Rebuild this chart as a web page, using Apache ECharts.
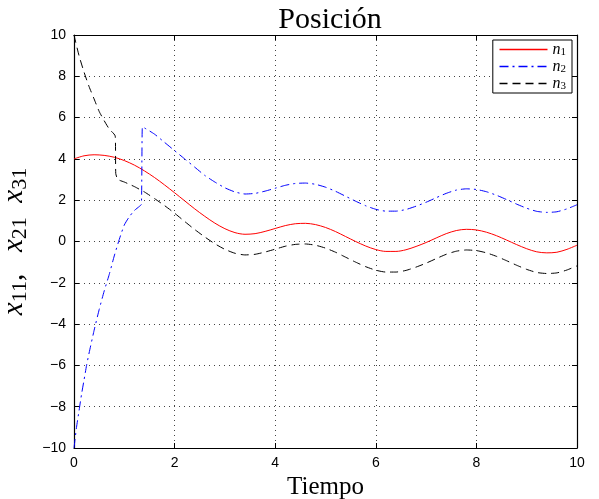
<!DOCTYPE html>
<html>
<head>
<meta charset="utf-8">
<title>Posición</title>
<script src="https://cdn.jsdelivr.net/npm/echarts@6/dist/echarts.min.js"></script>
<style>
  html, body { margin: 0; padding: 0; background: #fff; }
  #chart { width: 599px; height: 499px; }
</style>
</head>
<body>
<div id="chart"></div>
<script>
// values
const tN1 = [0, 0.2, 0.4, 0.6, 0.8, 1.0, 1.2, 1.4, 1.6, 1.8, 2.0, 2.2, 2.4, 2.6, 2.8, 3.0, 3.2, 3.4, 3.6, 3.8,
  4.0, 4.2, 4.4, 4.6, 4.8, 5.0, 5.2, 5.4, 5.6, 5.8, 6.0, 6.2, 6.4, 6.6, 6.8, 7.0, 7.2, 7.4, 7.6, 7.8,
  8.0, 8.2, 8.4, 8.6, 8.8, 9.0, 9.2, 9.4, 9.6, 9.8, 10]
const vN1 = [4.00, 4.15, 4.20, 4.17, 4.08, 3.92, 3.70, 3.42, 3.10, 2.74, 2.36, 1.97, 1.58, 1.22, 0.89, 0.62, 0.43, 0.35, 0.38, 0.49,
  0.63, 0.77, 0.86, 0.88, 0.82, 0.68, 0.48, 0.24, 0.00, -0.22, -0.39, -0.48, -0.48, -0.40, -0.24, -0.05, 0.17, 0.38, 0.53, 0.59,
  0.56, 0.45, 0.28, 0.07, -0.15, -0.35, -0.50, -0.55, -0.52, -0.38, -0.18]

const tN2 = [0, 0.05, 0.1, 0.15, 0.2, 0.25, 0.3, 0.4, 0.5, 0.6, 0.7, 0.8, 0.9, 1.0, 1.1, 1.2, 1.3, 1.34, 1.36,
  1.4, 1.6, 1.8, 2.0, 2.2, 2.4, 2.6, 2.8, 3.0, 3.2, 3.4, 3.6, 3.8, 4.0, 4.2, 4.4, 4.6, 4.8, 5.0, 5.2, 5.4,
  5.6, 5.8, 6.0, 6.2, 6.4, 6.6, 6.8, 7.0, 7.2, 7.4, 7.6, 7.8, 8.0, 8.2, 8.4, 8.6, 8.8, 9.0, 9.2, 9.4, 9.6, 9.8, 10]
const vN2 = [-10, -9.0, -8.2, -7.4, -6.7, -6.0, -5.4, -4.3, -3.3, -2.4, -1.6, -0.7, 0.1, 0.8, 1.2, 1.5, 1.7, 1.8, 5.55,
  5.5, 5.2, 4.8, 4.4, 4.0, 3.6, 3.2, 2.88, 2.6, 2.4, 2.3, 2.33, 2.44, 2.58, 2.72, 2.81, 2.83, 2.77, 2.63, 2.43, 2.19,
  1.95, 1.73, 1.56, 1.47, 1.47, 1.55, 1.71, 1.90, 2.12, 2.33, 2.49, 2.55, 2.52, 2.41, 2.24, 2.03, 1.81, 1.61, 1.46, 1.41, 1.44, 1.58, 1.78]

const tN3 = [0, 0.1, 0.2, 0.3, 0.4, 0.5, 0.6, 0.7, 0.82, 0.83, 0.86, 0.9, 1.0, 1.1, 1.2, 1.3, 1.4, 1.6, 1.8,
  2.0, 2.2, 2.4, 2.6, 2.8, 3.0, 3.2, 3.4, 3.6, 3.8, 4.0, 4.2, 4.4, 4.6, 4.8, 5.0, 5.2, 5.4, 5.6, 5.8,
  6.0, 6.2, 6.4, 6.6, 6.8, 7.0, 7.2, 7.4, 7.6, 7.8, 8.0, 8.2, 8.4, 8.6, 8.8, 9.0, 9.2, 9.4, 9.6, 9.8, 10]
const vN3 = [10, 9.0, 8.2, 7.5, 6.9, 6.3, 5.85, 5.45, 5.1, 3.3, 3.05, 2.97, 2.88, 2.77, 2.66, 2.53, 2.40, 2.08, 1.74,
  1.37, 0.97, 0.58, 0.22, -0.11, -0.38, -0.57, -0.65, -0.62, -0.51, -0.37, -0.23, -0.14, -0.12, -0.18, -0.32, -0.52, -0.76, -1.0, -1.22,
  -1.39, -1.48, -1.48, -1.40, -1.24, -1.05, -0.83, -0.62, -0.47, -0.41, -0.44, -0.55, -0.72, -0.93, -1.15, -1.35, -1.50, -1.55, -1.52, -1.38, -1.18]

const seriesNames = ['n1', 'n2', 'n3']
const seriesColors = ['#ff0000', '#0000ff', '#000000']
const seriesDash = ['solid', [9, 4, 2, 4], [8, 5]]

const zip = (t, v) => t.map((x, i) => [x, v[i]])
const fmt = v => String(v).replace('-', '\u2212')

const chart = echarts.init(document.getElementById('chart'), null, { renderer: 'canvas' })

const sansFont = 'Liberation Sans'
const serifFont = 'Liberation Serif'

const gridLine = { show: true, lineStyle: { color: '#444', type: [1, 4], width: 1 } }
const boxLine = { show: true, onZero: false, lineStyle: { color: '#000', width: 1.2 } }
const tickIn = { show: true, inside: true, length: 5, lineStyle: { color: '#000' } }

const makeSeries = (i, t, v, smooth) => ({
  name: seriesNames[i], type: 'line', data: zip(t, v), symbol: 'none', smooth,
  lineStyle: { color: seriesColors[i], width: 1, type: seriesDash[i] },
  itemStyle: { color: seriesColors[i] }
})

const option = {
  animation: false,
  backgroundColor: '#fff',
  title: {
    text: 'Posición',
    left: 325,
    textAlign: 'center',
    top: 0,
    textStyle: { fontFamily: serifFont, fontSize: 30, fontWeight: 'normal', color: '#000' }
  },
  grid: { left: 74, right: 22, top: 35, bottom: 51, containLabel: false, outerBoundsMode: 'none' },
  legend: {
    data: seriesNames.map((name, i) => ({
      name,
      itemStyle: { opacity: 0 },
      lineStyle: { color: seriesColors[i], width: 1.4, type: seriesDash[i] }
    })),
    orient: 'vertical',
    right: 27,
    top: 40,
    itemWidth: 48,
    itemHeight: 10,
    itemGap: 0,
    padding: [1, 6, 1, 6],
    borderColor: '#000',
    borderWidth: 1,
    backgroundColor: '#fff',
    formatter: name => '{n|n}{s|' + name.slice(1) + '}',
    textStyle: {
      lineHeight: 13,
      rich: {
        n: { fontFamily: serifFont, fontStyle: 'italic', fontSize: 16, lineHeight: 13, color: '#000' },
        s: { fontFamily: serifFont, fontSize: 11, lineHeight: 13, color: '#000', padding: [6, 0, 0, 0] }
      }
    }
  },
  xAxis: [
    {
      type: 'value', min: 0, max: 10, interval: 2, position: 'bottom',
      axisLine: boxLine, axisTick: tickIn, splitLine: gridLine,
      axisLabel: { color: '#000', fontFamily: sansFont, fontSize: 14, margin: 8, formatter: fmt },
      name: 'Tiempo', nameLocation: 'middle', nameGap: 24,
      nameTextStyle: { fontFamily: serifFont, fontSize: 25, color: '#000' }
    },
    {
      type: 'value', min: 0, max: 10, interval: 2, position: 'top',
      axisLine: boxLine, axisTick: tickIn, splitLine: { show: false }, axisLabel: { show: false }
    }
  ],
  yAxis: [
    {
      type: 'value', min: -10, max: 10, interval: 2, position: 'left',
      axisLine: boxLine, axisTick: tickIn, splitLine: gridLine,
      axisLabel: { color: '#000', fontFamily: sansFont, fontSize: 14, margin: 8, formatter: fmt },
      name: '{i|x}{s|11}{i|,   x}{s|21}{i|  x}{s|31}',
      nameLocation: 'middle', nameGap: 41, nameRotate: 90,
      nameTextStyle: {
        rich: {
          i: { fontFamily: serifFont, fontStyle: 'italic', fontSize: 29, color: '#000' },
          s: { fontFamily: serifFont, fontSize: 22, color: '#000', padding: [12, 0, 0, 0] }
        }
      }
    },
    {
      type: 'value', min: -10, max: 10, interval: 2, position: 'right',
      axisLine: boxLine, axisTick: tickIn, splitLine: { show: false }, axisLabel: { show: false }
    }
  ],
  series: [
    makeSeries(0, tN1, vN1, 0.3),
    makeSeries(1, tN2, vN2, 0.2),
    makeSeries(2, tN3, vN3, 0.2)
  ]
}

chart.setOption(option)
</script>
</body>
</html>
